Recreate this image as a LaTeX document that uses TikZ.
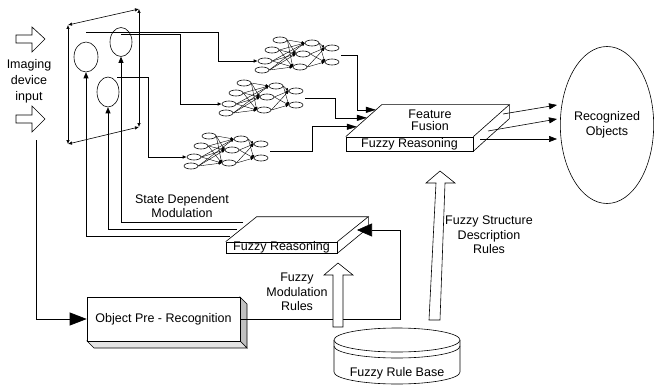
\documentclass[tikz,border=0pt]{standalone}
\usepackage{fontspec}
\setmainfont{Liberation Sans}
\usetikzlibrary{shapes.geometric, arrows.meta, positioning, calc}
\definecolor{boxShade}{HTML}{C0C0C0}
\definecolor{boxShadeLight}{HTML}{E4E4E4}

\tikzset{
  neuron/.style={draw, ellipse, minimum width=14pt, minimum height=6pt, inner sep=0pt},
  synapse/.style={-{Latex[length=3pt, width=3pt]}, line width=0.4pt},
  field/.style={draw, ellipse, inner sep=0pt},
  slabfront/.style={draw, fill=white, inner sep=0pt, text height=8.5pt, text depth=2.5pt},
  nnet/.pic={
    % input layer
    \node[neuron] (-i1) at (15,-21) {};
    \node[neuron] (-i2) at (7,-11) {};
    \node[neuron] (-i3) at (0,0) {};
    \node[neuron] (-i4) at (-3,9) {};
    % hidden layer
    \node[neuron] (-h1) at (47,-18) {};
    \node[neuron] (-h2) at (38,-7) {};
    \node[neuron] (-h3) at (35,6) {};
    % output layer
    \node[neuron] (-o1) at (67,-13) {};
    \node[neuron] (-o2) at (67,1) {};
    \coordinate (-out) at (76,-6);
    \foreach \a in {i1,i2,i3,i4}
      \foreach \b in {h1,h2,h3}
        \draw[synapse] (-\a.east) -- (-\b.west);
    \foreach \a in {h1,h2,h3}
      \foreach \b in {o1,o2}
        \draw[synapse] (-\a.east) -- (-\b.west);
  }
}

\begin{document}
\begin{tikzpicture}[x=1pt, y=-1pt, line width=0.6pt,
    font=\fontsize{12.5}{14.5}\selectfont,
    >={Triangle[length=6pt, width=5pt]}]
    \useasboundingbox (0,0) rectangle (655,385);

    % Imaging device input
    \draw[fill=white] (16,35) -- (32,35) -- (32,27) -- (45,39) -- (32,52) -- (32,43) -- (16,43) -- cycle;
    \draw[fill=white] (16,115) -- (32,115) -- (32,106) -- (45,119) -- (32,132) -- (32,123) -- (16,123) -- cycle;
    \node[align=center, font=\fontsize{12.5}{16}\selectfont] (imgtxt) at (29,81) {Imaging\\device\\input};

    % Frame
    \coordinate (fTL) at (68,25);
    \coordinate (fTR) at (139,9);
    \coordinate (fBR) at (139,127);
    \coordinate (fBL) at (68,144);
    \foreach \p/\q in {fTL/fTR, fTR/fBR, fBR/fBL, fBL/fTL}
        \draw[{Latex[length=4pt, width=3.5pt]}-{Latex[length=4pt, width=3.5pt]}] (\p) -- (\q);

    % Receptive fields
    \node[field, minimum width=24pt, minimum height=30pt] (rfA) at (86,57) {};
    \node[field, minimum width=22pt, minimum height=29pt] (rfB) at (121,42) {};
    \node[field, minimum width=22pt, minimum height=30pt] (rfC) at (108,92) {};

    % Networks
    \pic (n1) at (265,61) {nnet};
    \pic (n2) at (229,104) {nnet};
    \pic (n3) at (194,157) {nnet};

    % Fields to networks
    \coordinate (tapA) at (86,32);
    \coordinate (tapB) at (121,34);
    \coordinate (tapC) at (117,77);
    \draw[-{Latex[length=4pt, width=3.5pt]}] (tapA) -- (218,32) |- (n1-i3.west);
    \draw[-{Latex[length=4pt, width=3.5pt]}] (tapB) -- (180,34) |- (n2-i3.west);
    \draw[-{Latex[length=4pt, width=3.5pt]}] (tapC) -- (148,77) |- (n3-i3.west);

    % Feature fusion slab
    \node[slabfront, minimum width=127pt, minimum height=14pt] (fusefront) at (409.5,144) {Fuzzy Reasoning};
    \coordinate (fuseBL) at ($(fusefront.north west)+(36,-32)$);
    \coordinate (fuseBR) at ($(fusefront.north east)+(36,-32)$);
    \draw (fusefront.north west) -- (fuseBL) -- (fuseBR) -- (fusefront.north east);
    \draw (fuseBR) -- ($(fuseBR)+(0,14)$) -- (fusefront.south east);
    \node[align=center, font=\fontsize{12.5}{12}\selectfont] (fusetxt) at (430,120) {Feature\\Fusion};

    % Networks to fusion
    \coordinate (hitN1) at ($(fusefront.north west)!0.84!(fuseBL)$);
    \coordinate (hitN2) at ($(fusefront.north west)!0.59!(fuseBL)$);
    \coordinate (hitN3) at ($(fusefront.north west)!0.31!(fuseBL)$);
    \draw[-{Triangle[length=10pt, width=6pt]}] (n1-out) -- (357,55) |- (hitN1);
    \draw[-{Triangle[length=10pt, width=6pt]}] (n2-out) -- (335,98) |- (hitN2);
    \draw[-{Triangle[length=10pt, width=6pt]}] (n3-out) -- (312,151) |- (hitN3);

    % Recognized objects
    \node[field, minimum width=90pt, minimum height=157pt, align=center] (recog) at (607,125) {Recognized\\Objects};
    \coordinate (outF1) at (503,114);
    \coordinate (outF2) at (488,131);
    \coordinate (outF3) at (480,139);
    \coordinate (inR1) at (557,105);
    \coordinate (inR2) at (557,119);
    \coordinate (inR3) at (557,139);
    \foreach \s/\t in {outF1/inR1, outF2/inR2, outF3/inR3}
        \draw[-{Triangle[length=8pt, width=6pt]}] (\s) -- (\t);

    % Modulation slab
    \node[slabfront, minimum width=111pt, minimum height=11pt] (modfront) at (281.5,247.5) {Fuzzy Reasoning};
    \coordinate (modBL) at ($(modfront.north west)+(31,-25)$);
    \coordinate (modBR) at ($(modfront.north east)+(31,-25)$);
    \draw (modfront.north west) -- (modBL) -- (modBR) -- (modfront.north east);
    \draw (modBR) -- ($(modBR)+(0,11)$) -- (modfront.south east);

    % State dependent modulation
    \coordinate (fbA) at (230,236);
    \coordinate (fbC) at (237,229);
    \coordinate (fbB) at (243,222);
    \draw[->] (fbA) -| (rfA.south);
    \draw[->] (fbC) -| (rfC.south);
    \draw[->] (fbB) -| (rfB.south);
    \node[align=center] (sdmtxt) at (182,206) {State Dependent\\Modulation};

    % Object pre-recognition
    \draw[fill=boxShade] (240,297) -- (247,304) -- (247,348) -- (240,341) -- cycle;
    \draw[fill=boxShadeLight] (87,341) -- (240,341) -- (247,348) -- (94,348) -- cycle;
    \node[draw, fill=white, minimum width=153pt, minimum height=44pt, inner sep=0pt] (prerec) at (163.5,319) {Object Pre - Recognition};
    \coordinate (tapIn) at (36,140);
    \draw[-{Triangle[length=17pt, width=13pt]}] (tapIn) |- (prerec.west);
    \coordinate (modIn) at (357,230);
    \draw[-{Triangle[length=15pt, width=13pt]}] (prerec.east) -| (400,230) -- (modIn);

    % Rule arrows
    \draw[fill=white] (333,327) -- (333,275) -- (324,275) -- (338,263) -- (353,275) -- (343,275) -- (343,327) -- cycle;
    \draw[fill=white] (429,320) -- (436,183) -- (426,183) -- (440,171) -- (455,183) -- (445,183) -- (440,320) -- cycle;
    \node[align=center] (modrules) at (297,292) {Fuzzy\\Modulation\\Rules};
    \node[align=center] (strrules) at (489,235) {Fuzzy Structure\\Description\\Rules};

    % Rule base
    \draw[fill=white] (334,340) -- (334,372) arc[start angle=180, end angle=360, x radius=63pt, y radius=12pt] -- (460,340);
    \draw[fill=white] (397,340) ellipse [x radius=63pt, y radius=12pt];
    \draw (334,346) arc[start angle=180, end angle=360, x radius=63pt, y radius=12pt];
    \node (rulebase) at (397,373) {Fuzzy Rule Base};
\end{tikzpicture}
\end{document}
